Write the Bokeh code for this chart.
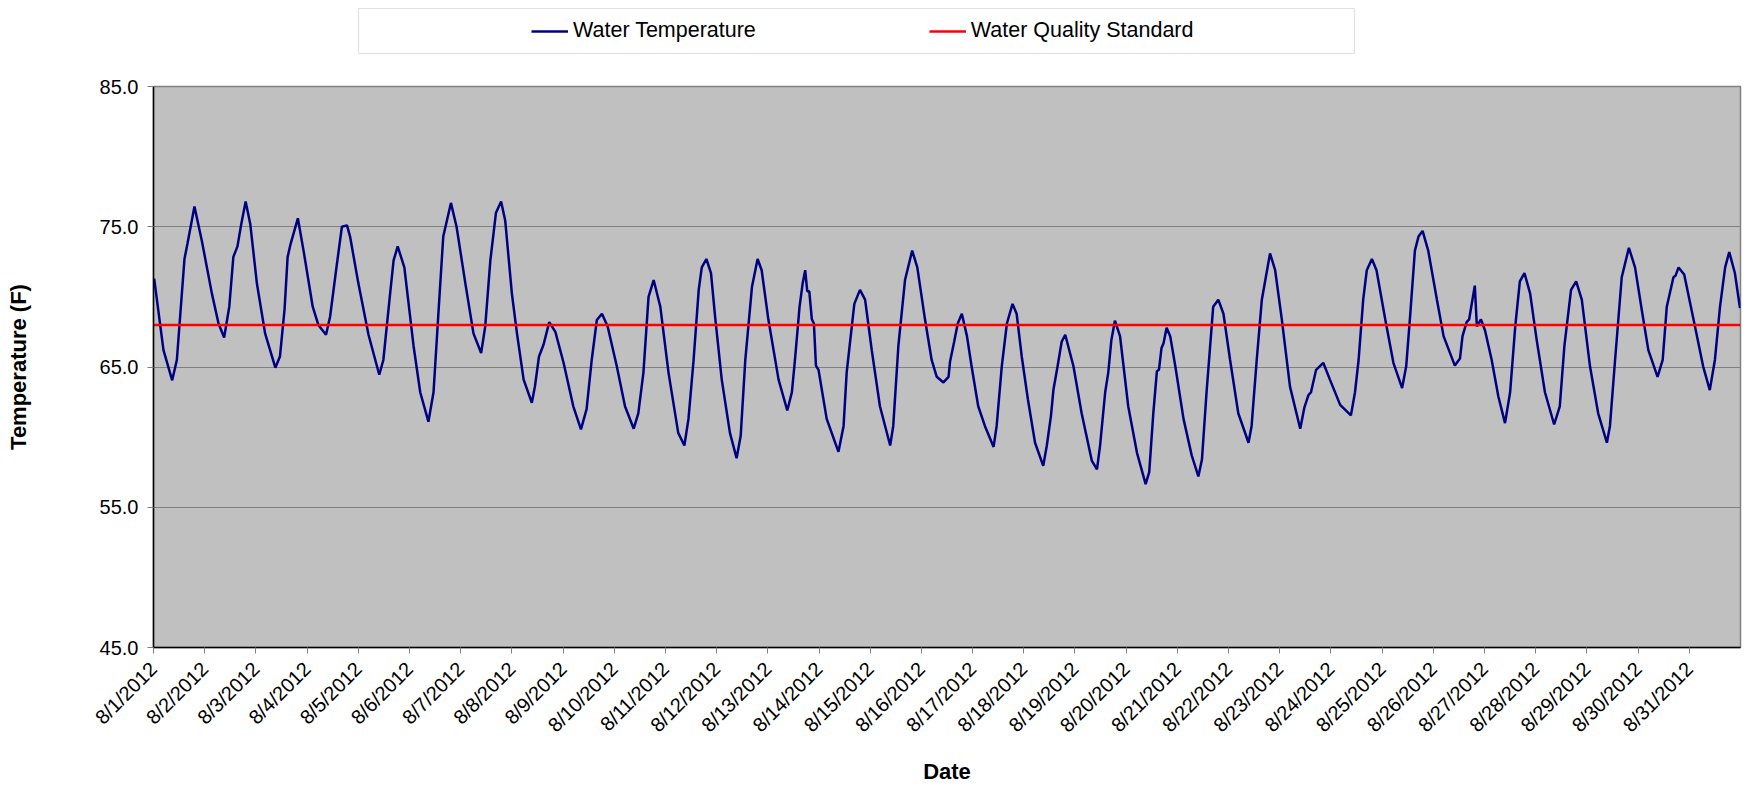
import math
from bokeh.plotting import figure
from bokeh.layouts import column
from bokeh.models import (FixedTicker, Legend, LegendItem, BoxAnnotation, Range1d,
                          NumeralTickFormatter)
from bokeh.embed import file_html
from bokeh.resources import INLINE

# ---- data (days since 8/1/2012 00:00, temperature in F) ----
day_offset = [
    0.013, 0.195, 0.365, 0.456, 0.605, 0.664, 0.80, 0.944, 1.14, 1.27, 1.38, 1.48, 1.56, 1.64, 1.71, 1.80,
    1.89, 2.02, 2.18, 2.38, 2.47, 2.56, 2.62, 2.68, 2.82, 2.94, 3.11, 3.22, 3.37, 3.45, 3.57, 3.68, 3.78,
    3.84, 4.00, 4.20, 4.41, 4.49, 4.61, 4.69, 4.77, 4.90, 5.08, 5.21, 5.37, 5.47, 5.57, 5.66, 5.81, 5.92,
    6.09, 6.25, 6.40, 6.48, 6.58, 6.69, 6.79, 6.87, 7.00, 7.10, 7.23, 7.39, 7.45, 7.53, 7.62, 7.73, 7.85,
    8.01, 8.20, 8.35, 8.46, 8.56, 8.66, 8.76, 8.87, 9.05, 9.21, 9.38, 9.47, 9.57, 9.67, 9.77, 9.90, 10.06,
    10.25, 10.37, 10.45, 10.55, 10.65, 10.71, 10.80, 10.89, 10.97, 11.10, 11.26, 11.39, 11.47, 11.56,
    11.69, 11.80, 11.88, 12.01, 12.21, 12.38, 12.47, 12.53, 12.62, 12.68, 12.73, 12.77, 12.81, 12.86,
    12.90, 12.94, 12.99, 13.15, 13.38, 13.48, 13.54, 13.61, 13.69, 13.80, 13.90, 14.03, 14.19, 14.39,
    14.45, 14.55, 14.68, 14.82, 14.92, 15.07, 15.20, 15.30, 15.43, 15.53, 15.56, 15.64, 15.71, 15.79,
    15.89, 15.98, 16.11, 16.24, 16.41, 16.47, 16.57, 16.67, 16.78, 16.86, 16.96, 17.08, 17.22, 17.38,
    17.45, 17.53, 17.58, 17.66, 17.74, 17.81, 17.97, 18.13, 18.33, 18.43, 18.49, 18.59, 18.65, 18.71,
    18.78, 18.88, 19.04, 19.21, 19.38, 19.45, 19.53, 19.60, 19.64, 19.69, 19.73, 19.79, 19.86, 19.96,
    20.12, 20.28, 20.41, 20.48, 20.57, 20.67, 20.70, 20.80, 20.90, 21.03, 21.19, 21.39, 21.45, 21.55,
    21.65, 21.81, 21.91, 22.04, 22.20, 22.40, 22.48, 22.56, 22.61, 22.71, 22.85, 22.98, 23.18, 23.39,
    23.47, 23.54, 23.63, 23.70, 23.80, 23.89, 24.06, 24.22, 24.39, 24.47, 24.55, 24.64, 24.71, 24.79,
    24.90, 25.07, 25.20, 25.42, 25.52, 25.57, 25.65, 25.70, 25.81, 25.85, 25.93, 26.01, 26.14, 26.27,
    26.40, 26.50, 26.60, 26.69, 26.78, 26.89, 27.02, 27.18, 27.36, 27.47, 27.56, 27.69, 27.79, 27.90,
    28.06, 28.22, 28.39, 28.45, 28.55, 28.68, 28.82, 28.94, 29.07, 29.20, 29.38, 29.48, 29.56, 29.69,
    29.73, 29.79, 29.90, 30.11, 30.27, 30.40, 30.50, 30.60, 30.70, 30.78, 30.89, 30.99,
]
temp_f = [
    71.3, 66.2, 64.05, 65.5, 72.7, 73.8, 76.44, 74.0, 70.25, 68.1, 67.1, 69.3, 72.85, 73.6, 75.1, 76.8,
    75.2, 70.95, 67.4, 64.95, 65.75, 69.1, 72.85, 73.8, 75.6, 73.1, 69.3, 68.0, 67.3, 68.6, 72.0, 75.0, 75.1,
    74.3, 71.0, 67.3, 64.45, 65.5, 69.8, 72.6, 73.6, 72.1, 66.5, 63.2, 61.1, 63.2, 69.1, 74.3, 76.7, 75.0,
    71.0, 67.4, 66.0, 67.9, 72.6, 76.0, 76.8, 75.45, 70.25, 67.4, 64.1, 62.45, 63.6, 65.75, 66.6, 68.2, 67.5,
    65.3, 62.2, 60.55, 62.0, 65.5, 68.35, 68.8, 67.9, 65.05, 62.2, 60.6, 61.7, 64.6, 70.0, 71.2, 69.3, 64.6,
    60.3, 59.4, 61.3, 65.5, 70.5, 72.1, 72.7, 71.7, 68.6, 64.1, 60.3, 58.5, 60.1, 65.5,
    70.7, 72.7, 71.9, 68.4, 64.1, 61.9, 63.2, 65.5, 69.3, 70.95, 71.9, 70.4, 70.4, 68.4,
    68.1, 65.1, 64.8, 61.3, 58.95, 60.8, 64.6, 66.9, 69.5, 70.5, 69.8, 66.2, 62.2, 59.4,
    60.8, 66.5, 71.2, 73.3, 72.1, 68.4, 65.5, 64.3, 63.9, 64.3, 65.4, 66.8, 68.1, 68.8,
    67.2, 65.05, 62.2, 60.8, 59.3, 60.8, 65.05, 68.1, 69.5, 68.8, 65.75, 62.7, 59.6, 57.95,
    59.4, 61.5, 63.4, 65.05, 66.8, 67.3, 65.05, 61.7, 58.3, 57.7, 59.4, 63.2, 64.6, 66.9,
    68.3, 67.2, 62.2, 58.9, 56.65, 57.5, 61.7, 64.7, 64.8, 66.35, 66.7, 67.8, 67.2, 65.05,
    61.3, 58.7, 57.2, 58.4, 63.2, 67.9, 69.3, 69.8, 68.8, 65.5, 61.7, 59.6, 60.8, 65.5,
    69.8, 73.1, 71.9, 68.4, 63.6, 60.6, 62.1, 63.0, 63.2, 64.8, 65.3, 64.1, 62.3, 61.55,
    63.2, 65.5, 69.8, 71.9, 72.7, 71.9, 68.4, 65.3, 63.5, 65.05, 68.8, 73.3, 74.3, 74.7,
    73.3, 69.8, 67.2, 65.1, 65.6, 67.2, 68.2, 68.4, 70.8, 67.9, 68.4, 67.6, 65.5, 62.9,
    61.0, 63.2, 67.9, 71.1, 71.7, 70.25, 66.9, 63.2, 60.9, 62.2, 66.5, 70.5, 71.1, 69.8,
    65.05, 61.7, 59.6, 60.8, 65.5, 71.4, 73.5, 72.1, 69.1, 66.2, 64.3, 65.5, 69.3, 71.4,
    71.5, 72.1, 71.6, 67.9, 65.05, 63.35, 65.5, 69.3, 72.1, 73.2, 71.7, 69.2,
]
standard_days = [0, 31]
standard_temp = [68.0, 68.0]

tick_days = list(range(31))
tick_labels = [
    "8/1/2012", "8/2/2012", "8/3/2012", "8/4/2012", "8/5/2012", "8/6/2012", "8/7/2012", "8/8/2012",
    "8/9/2012", "8/10/2012", "8/11/2012", "8/12/2012", "8/13/2012", "8/14/2012", "8/15/2012",
    "8/16/2012", "8/17/2012", "8/18/2012", "8/19/2012", "8/20/2012", "8/21/2012", "8/22/2012",
    "8/23/2012", "8/24/2012", "8/25/2012", "8/26/2012", "8/27/2012", "8/28/2012", "8/29/2012",
    "8/30/2012", "8/31/2012",
]
y_ticks = [45, 55, 65, 75, 85]

FONT = "Liberation Sans"
NAVY = "#000080"
RED = "#FF0000"
W = 1754
TOP_H = 74
MAIN_H = 715
BL, BR = 153, 14  # left / right borders shared by both canvases

# ---------------- legend strip (pixel coordinates) ----------------
top = figure(width=W, height=TOP_H, x_range=Range1d(BL, W - BR), y_range=Range1d(TOP_H, 0),
             output_backend="svg", toolbar_location=None,
             min_border_left=BL, min_border_right=BR, min_border_top=0, min_border_bottom=0)
top.axis.visible = False
top.grid.visible = False
top.outline_line_color = None
top.background_fill_color = "white"
top.border_fill_color = "white"
top.add_layout(BoxAnnotation(left=358, right=1354, top=8, bottom=53,
                             fill_color="white", fill_alpha=1.0,
                             line_color="#A0A0A0", line_width=1.2))
# same series drawn here only to feed the legend (falls outside this strip's range)
k1 = top.line(day_offset, temp_f, line_color=NAVY, line_width=2.5)
k2 = top.line(standard_days, standard_temp, line_color=RED, line_width=2.4)
legend = Legend(items=[LegendItem(label="Water Temperature", renderers=[k1]),
                       LegendItem(label="Water Quality Standard", renderers=[k2])],
                orientation="horizontal", location=(520 - BL, 20),
                glyph_width=37, glyph_height=20, label_standoff=5, spacing=173,
                padding=11, margin=0,
                label_text_font=FONT, label_text_font_size="21.5px", label_text_color="black",
                border_line_alpha=0, background_fill_alpha=0)
top.add_layout(legend, "center")

# ---------------- main chart ----------------
p = figure(width=W, height=MAIN_H, x_range=Range1d(0, 31), y_range=Range1d(45, 85),
           output_backend="svg", toolbar_location=None,
           min_border_left=BL, min_border_right=BR, min_border_top=12, min_border_bottom=142)
p.background_fill_color = "#C0C0C0"
p.border_fill_color = "white"
p.outline_line_color = "#808080"
p.outline_line_width = 1.5

p.line(day_offset, temp_f, line_color=NAVY, line_width=2.5)
p.line(standard_days, standard_temp, line_color=RED, line_width=2.4)

p.xaxis.ticker = FixedTicker(ticks=tick_days)
p.xaxis.major_label_overrides = {d: lab for d, lab in zip(tick_days, tick_labels)}
p.xaxis.major_label_orientation = math.pi / 4
p.yaxis.ticker = FixedTicker(ticks=y_ticks)
p.yaxis.formatter = NumeralTickFormatter(format="0.0")
for ax in (p.xaxis[0], p.yaxis[0]):
    ax.axis_line_color = "black"
    ax.axis_line_width = 1.5
    ax.major_tick_line_color = "#808080"
    ax.major_tick_in = 0
    ax.major_tick_out = 6
    ax.minor_tick_line_color = None
    ax.major_label_text_font = FONT
    ax.major_label_text_font_size = "20px"
    ax.major_label_text_color = "black"
    ax.axis_label_text_font = FONT
    ax.axis_label_text_font_size = "22px"
    ax.axis_label_text_font_style = "bold"
    ax.axis_label_text_color = "black"
p.yaxis.major_label_standoff = 9
p.xaxis.major_label_standoff = 12
p.yaxis.axis_label = "Temperature (F)"
p.xaxis.axis_label = "Date"
p.yaxis.axis_label_standoff = 66
p.xaxis.axis_label_standoff = 12

p.xgrid.visible = False
p.ygrid.ticker = FixedTicker(ticks=y_ticks)
p.ygrid.grid_line_color = "#808080"
p.ygrid.grid_line_width = 1

layout = column(top, p, spacing=0)
open("out.html", "w").write(file_html(layout, INLINE))
